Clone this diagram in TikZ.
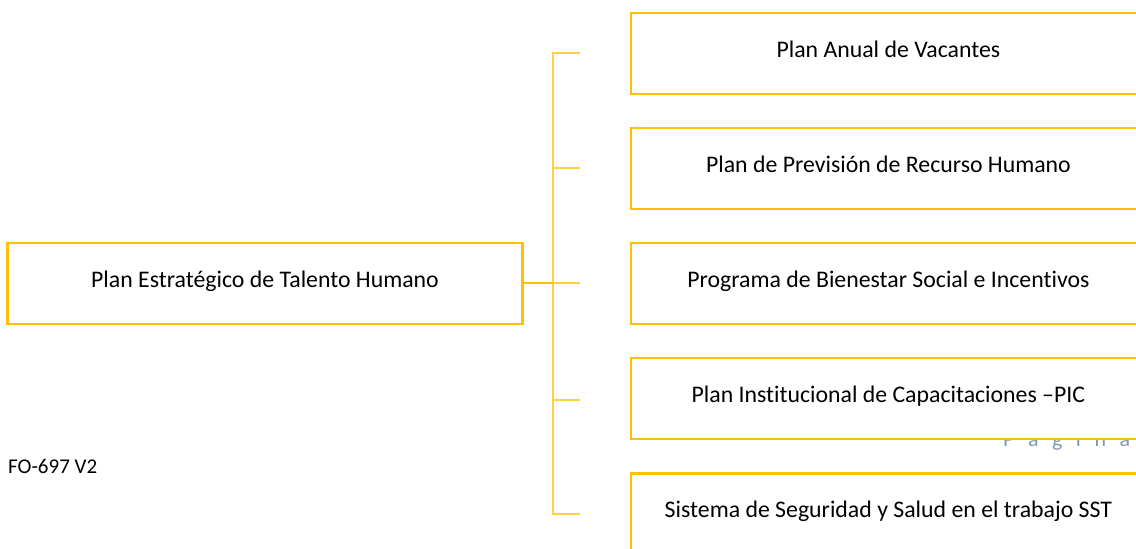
\documentclass[tikz,border=0pt]{standalone}
\usepackage{fontspec}
\setmainfont{Carlito}[Ligatures={NoCommon}]
\usepackage{tikz}
\usepackage{xcolor}
\definecolor{gold}{RGB}{255,192,0}
\definecolor{pagegray}{RGB}{132,151,176}
\newcommand{\pagefont}{\fontsize{22}{26}\selectfont\spaceskip=13.5pt plus 0pt minus 0pt\relax}

\begin{document}
\begin{tikzpicture}[x=1pt,y=-1pt,
  planbox/.style={draw=gold, line width=2.2pt, fill=white, minimum width=515pt, minimum height=81pt,
    inner sep=0pt, text height=12pt, text depth=4.4pt, font=\fontsize{23.8}{28}\selectfont},
  bracket/.style={draw=gold!75, line width=2pt}]
\useasboundingbox (0,0) rectangle (1136,549);
\clip (0,0) rectangle (1136,549);
\node[anchor=base west, inner sep=0pt, font=\fontsize{21}{25}\selectfont] (code) at (8,473) {FO-697 V2};
\node[anchor=base west, inner sep=0pt, text=pagegray] (page) at (1003,446.5) {\pagefont P a g i n a};
\node[planbox] (main) at (265,283.2) {Plan Estratégico de Talento Humano};
\node[planbox] (p1) at (888.4,53.2) {Plan Anual de Vacantes};
\node[planbox] (p2) at (888.4,168.2) {Plan de Previsión de Recurso Humano};
\node[planbox] (p3) at (888.4,283.2) {Programa de Bienestar Social e Incentivos};
\node[planbox] (p4) at (888.4,398.8) {Plan Institucional de Capacitaciones –PIC};
\node[planbox] (p5) at (888.4,514) {Sistema de Seguridad y Salud en el trabajo SST};
\foreach \k/\y in {1/53.2,2/168.2,3/283.2,4/399.5,5/514} {
  \coordinate (b\k) at (552.5,\y);
  \coordinate (t\k) at (580,\y);
}
\draw[bracket] (t1) -- (b1) -- (b5) -- (t5);
\foreach \k in {2,3,4} \draw[bracket] (b\k) -- (t\k);
\draw[draw=gold, line width=2.2pt] (main.east) -- (b3);
\end{tikzpicture}
\end{document}
